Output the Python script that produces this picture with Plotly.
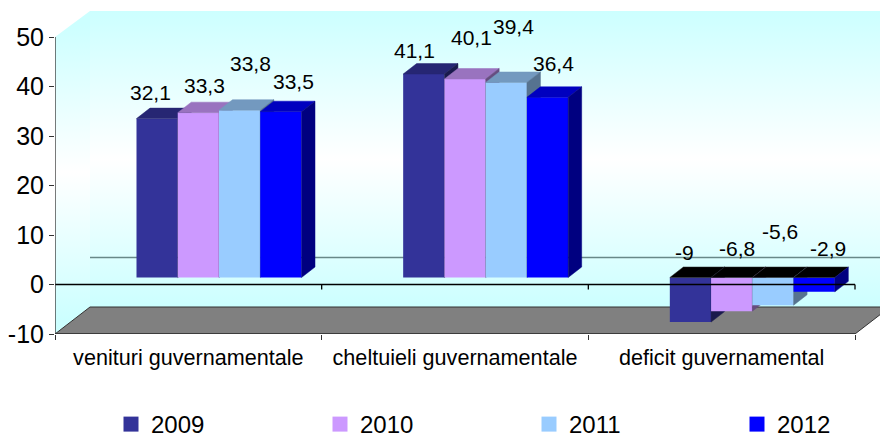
import plotly.graph_objects as go

categories = ["venituri guvernamentale", "cheltuieli guvernamentale", "deficit guvernamental"]
years = ["2009", "2010", "2011", "2012"]
values_2009 = [32.1, 41.1, -9]
values_2010 = [33.3, 40.1, -6.8]
values_2011 = [33.8, 39.4, -5.6]
values_2012 = [33.5, 36.4, -2.9]
series = [values_2009, values_2010, values_2011, values_2012]
y_ticks = [-10, 0, 10, 20, 30, 40, 50]

front_colors = ["#333399", "#CC99FF", "#99CCFF", "#0000FF"]
top_colors = ["#262673", "#9973BF", "#7399BF", "#0000BF"]
side_colors = ["#1A1A4D", "#664D80", "#567390", "#000080"]

W, H = 880, 434
L, T, B = 55, 11, 100
PLOT_W, PLOT_H = W - L, H - T - B
PX_X = 800 / 3
PX_Y = 4.95
x_max = PLOT_W / PX_X
y_max = PLOT_H / PX_Y - 10
wall_dx = 35 / PX_X
wall_dy = 27 / PX_Y
bar_dx = 13.5 / PX_X
bar_dy = 10.5 / PX_Y
bar_base = 7 / PX_Y
bar_w = 41.25 / PX_X
group_c = 0.615

label_dx = [[-6.6, -8.9, -5.6], [6.6, 6.4, 5.1], [10.5, 6.9, 6.9], [13, 6.3, 13.6]]
label_dy = [[26, 23.6, 25], [27, 41.8, 29], [46.7, 56, 46], [30, 33.8, 29]]
legend_px = [131, 340, 549, 757]


def poly(xs, ys, color, xa, ya, group=None, edge=None):
    return go.Scatter(x=xs + xs[:1], y=ys + ys[:1], mode="lines", fill="toself", fillcolor=color,
                      line=dict(color=edge or color, width=0.5), hoverinfo="skip", showlegend=False,
                      xaxis=xa, yaxis=ya, legendgroup=group)


fig = go.Figure()
wall_scale = [[0, "#CCFFFF"], [0.5, "#FFFFFF"], [1, "#CCFFFF"]]
wall_bottom = -10 + wall_dy
# back wall
fig.add_trace(go.Scatter(x=[wall_dx, x_max, x_max, wall_dx, wall_dx],
                         y=[wall_bottom, wall_bottom, y_max, y_max, wall_bottom],
                         mode="lines", fill="toself", line=dict(width=0),
                         fillgradient=dict(type="vertical", colorscale=wall_scale, start=wall_bottom, stop=y_max),
                         hoverinfo="skip", showlegend=False))
# side wall
fig.add_trace(go.Scatter(x=[0, wall_dx, wall_dx, 0, 0],
                         y=[-10, wall_bottom, y_max, 50, -10],
                         mode="lines", fill="toself", line=dict(width=0),
                         fillgradient=dict(type="vertical", colorscale=wall_scale, start=-10 + wall_dy / 2, stop=50 + wall_dy / 2),
                         hoverinfo="skip", showlegend=False))
# floor
fig.add_trace(go.Scatter(x=[0, 3, 3 + wall_dx, wall_dx, 0], y=[-10, -10, wall_bottom, wall_bottom, -10],
                         mode="lines", fill="toself", fillcolor="#808080", line=dict(color="#333333", width=1),
                         hoverinfo="skip", showlegend=False))
# zero line on the back wall
fig.add_trace(go.Scatter(x=[wall_dx, x_max], y=[wall_dy, wall_dy], mode="lines",
                         line=dict(color="#688888", width=1.5), hoverinfo="skip", showlegend=False))

for k, vals in enumerate(series):
    xa, ya = f"x{k + 2}", f"y{k + 2}"
    centers = [i + group_c + (k - 1.5) * bar_w for i in range(len(categories))]
    for c, v in zip(centers, vals):
        x0, x1 = c - bar_w / 2, c + bar_w / 2
        end = bar_base + v
        if v >= 0:
            fig.add_trace(poly([x0, x1, x1 + bar_dx, x0 + bar_dx], [end, end, end + bar_dy, end + bar_dy],
                               top_colors[k], xa, ya, years[k]))
        else:
            fig.add_trace(poly([x0, x1, x1 + bar_dx, x0 + bar_dx],
                               [bar_base, bar_base, bar_base + bar_dy, bar_base + bar_dy], "#000000", xa, ya, years[k], "#262626"))
        fig.add_trace(poly([x1, x1 + bar_dx, x1 + bar_dx, x1],
                           [bar_base, bar_base + bar_dy, end + bar_dy, end], side_colors[k], xa, ya, years[k]))
    fig.add_trace(go.Bar(x=centers, y=vals, base=bar_base, width=bar_w, name=years[k],
                         marker=dict(color=front_colors[k], line=dict(width=0)),
                         xaxis=xa, yaxis=ya, legendgroup=years[k], showlegend=False))
    fig.add_trace(go.Scatter(x=[None], y=[None], mode="markers", name=years[k], legendgroup=years[k],
                             legend="legend" if k == 0 else f"legend{k + 1}",
                             marker=dict(symbol="square", size=15, color=front_colors[k]), xaxis=xa, yaxis=ya))

# axis lines on top
lx, ly = "x6", "y6"
fig.add_trace(go.Scatter(x=[0, 3, None, 1, 1, None, 2, 2, None, 3, 3],
                         y=[0, 0, None, 0, -1, None, 0, -1, None, 0, -1],
                         mode="lines", line=dict(color="#000000", width=1.3), hoverinfo="skip", showlegend=False,
                         xaxis=lx, yaxis=ly))
fig.add_trace(go.Scatter(x=[0, 0, 3], y=[50, -10, -10], mode="lines", line=dict(color="#333333", width=1.3),
                         hoverinfo="skip", showlegend=False, xaxis=lx, yaxis=ly))

annotations = []
for k, vals in enumerate(series):
    for i, v in enumerate(vals):
        c = i + group_c + (k - 1.5) * bar_w
        annotations.append(dict(x=c, y=bar_base + max(v, 0), xref="x", yref="y", showarrow=False,
                                text=str(v).replace(".", ","), xshift=label_dx[k][i], yshift=label_dy[k][i],
                                font=dict(size=21, color="#000000")))

layout = dict(
    width=W, height=H, margin=dict(l=L, r=0, t=T, b=B, pad=0, autoexpand=False), autosize=False,
    paper_bgcolor="#FFFFFF", plot_bgcolor="rgba(0,0,0,0)",
    font=dict(family="Liberation Sans, Arial, sans-serif", color="#000000"),
    showlegend=True, barmode="overlay",
    annotations=annotations,
    xaxis=dict(range=[0, x_max], showgrid=False, zeroline=False, showline=False,
               tickmode="array", tickvals=[0.5, 1.5, 2.5], ticktext=categories, ticks="", ticklabelstandoff=8,
               tickfont=dict(size=21.6),
               minor=dict(tickmode="array", tickvals=[0, 1, 2, 3], ticks="outside", ticklen=5, tickcolor="#333333", tickwidth=1.3)),
    yaxis=dict(range=[-10, y_max], showgrid=False, zeroline=False, showline=False,
               tickmode="array", tickvals=y_ticks, ticktext=[str(t) for t in y_ticks],
               ticks="outside", ticklen=5, tickcolor="#333333", tickwidth=1.3,
               tickfont=dict(size=25)),
)
for k, px in enumerate(legend_px):
    layout["legend" if k == 0 else f"legend{k + 1}"] = dict(
        x=(px - 20 - L) / PLOT_W, xanchor="left", y=(T + PLOT_H - 424.5) / PLOT_H, yanchor="middle",
        font=dict(size=24), bgcolor="rgba(0,0,0,0)", itemclick=False, itemdoubleclick=False)
for n in range(2, 7):
    layout[f"xaxis{n}"] = dict(range=[0, x_max], overlaying="x", visible=False)
    layout[f"yaxis{n}"] = dict(range=[-10, y_max], overlaying="y", visible=False)
fig.update_layout(**layout)
fig.write_html("out.html", config={"displayModeBar": False},
               post_script="document.body.style.margin='0';document.body.style.overflow='hidden';")
